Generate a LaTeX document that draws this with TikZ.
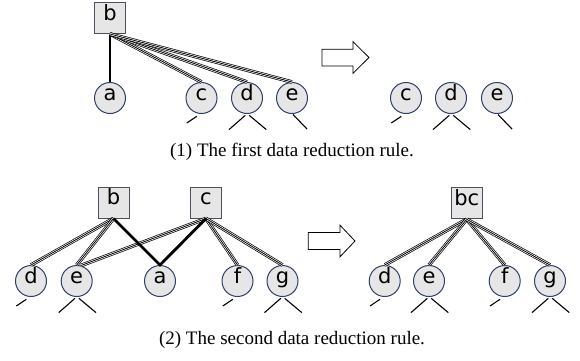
\documentclass[tikz,border=0pt]{standalone}
\usepackage{fontspec}
\setmainfont{Liberation Serif}
\newfontfamily\nodefont{DejaVu Sans}
\usetikzlibrary{calc}
\definecolor{circborder}{HTML}{2E3F6B}
\definecolor{boxborder}{HTML}{4B515C}
\definecolor{nodefill}{HTML}{E6E6E6}
\begin{document}
\begin{tikzpicture}[x=1pt,y=-1pt,
  vtx/.style={circle, draw=circborder, line width=1pt, fill=nodefill, minimum size=31pt, inner sep=0pt,
    font=\nodefont\fontsize{21}{21}\selectfont, text height=1.5ex, text depth=0.5ex},
  sq/.style={rectangle, draw=boxborder, line width=1pt, fill=nodefill, minimum size=31pt, inner sep=0pt,
    font=\nodefont\fontsize{21}{21}\selectfont, text height=1.5ex, text depth=0.5ex},
  tripleedge/.style={line width=0.8pt, preaction={draw=black, line width=3.6pt}, preaction={draw=white, line width=2.2pt}},
  heavy/.style={line width=2.8pt},
  stub/.style={line width=1.1pt},
  blockarrow/.style={draw=black, line width=0.8pt, fill=white, line join=miter},
  caption/.style={font=\fontsize{19}{22}\selectfont}
]
\useasboundingbox (0,0) rectangle (580,360);

% ---------- Rule 1 ----------
\node[sq]  (b1) at (110,18) {b};
\node[vtx] (a1) at (110,98) {a};
\node[vtx] (c1) at (201.5,98) {c};
\node[vtx] (d1) at (247,98) {d};
\node[vtx] (e1) at (292,98) {e};

\draw[heavy] (b1.south) -- (a1.north);
\draw[tripleedge] (b1.south) -- (c1.north);
\draw[tripleedge] (b1.south) -- (d1.north);
\draw[tripleedge] (b1.south) -- (e1.north);

\draw[blockarrow] (322,49.3) -- (353,49.3) -- (353,41.7) -- (369,57.5) -- (353,73.3) -- (353,66) -- (322,66) -- cycle;

\node[vtx] (c1r) at (406,98) {c};
\node[vtx] (d1r) at (451,98) {d};
\node[vtx] (e1r) at (497,98) {e};

\node[caption] (cap1) at (292,152) {(1) The first data reduction rule.};

% ---------- Rule 2 ----------
\node[sq]  (b2) at (113.5,202.5) {b};
\node[sq]  (c2) at (206,202.5) {c};
\node[vtx] (d2) at (31,281) {d};
\node[vtx] (e2) at (76.7,281) {e};
\node[vtx] (a2) at (160,281) {a};
\node[vtx] (f2) at (237.5,281) {f};
\node[vtx] (g2) at (282.5,281) {g};

\draw[tripleedge] (b2.south) -- (d2.north);
\draw[tripleedge] (b2.south) -- (e2.north);
\draw[tripleedge] (c2.south) -- (e2.75);
\draw[tripleedge] (c2.south) -- (f2.north);
\draw[tripleedge] (c2.south) -- (g2.north);
\draw[heavy] (b2.south) -- (a2.north) -- (c2.south);

\draw[blockarrow] (308.3,232.5) -- (340,232.5) -- (340,225.2) -- (355,241) -- (340,256.8) -- (340,249.5) -- (308.3,249.5) -- cycle;

\node[sq]  (bc) at (466.7,203.3) {bc};
\node[vtx] (d2r) at (384.7,281) {d};
\node[vtx] (e2r) at (429,281) {e};
\node[vtx] (f2r) at (504.7,281) {f};
\node[vtx] (g2r) at (550,281) {g};

\draw[tripleedge] (bc.south) -- (d2r.north);
\draw[tripleedge] (bc.south) -- (e2r.north);
\draw[tripleedge] (bc.south) -- (f2r.north);
\draw[tripleedge] (bc.south) -- (g2r.north);

\node[caption] (cap2) at (292,340) {(2) The second data reduction rule.};

% ---------- stubs ----------
\foreach \n in {c1,c1r,d2,f2,d2r,f2r}{
  \draw[stub] ($(\n.center)+(-4.7,18.3)$) -- ($(\n.center)+(-14.7,25)$);
}
\foreach \n in {d1,d1r,e2,g2,e2r,g2r}{
  \draw[stub] ($(\n.center)+(-1.7,17.3)$) -- ($(\n.center)+(-18,31.6)$);
  \draw[stub] ($(\n.center)+(2.2,17.3)$) -- ($(\n.center)+(19.3,31.6)$);
}
\foreach \n in {e1,e1r}{
  \draw[stub] ($(\n.center)+(1,16.5)$) -- ($(\n.center)+(15,31)$);
}
\end{tikzpicture}
\end{document}
